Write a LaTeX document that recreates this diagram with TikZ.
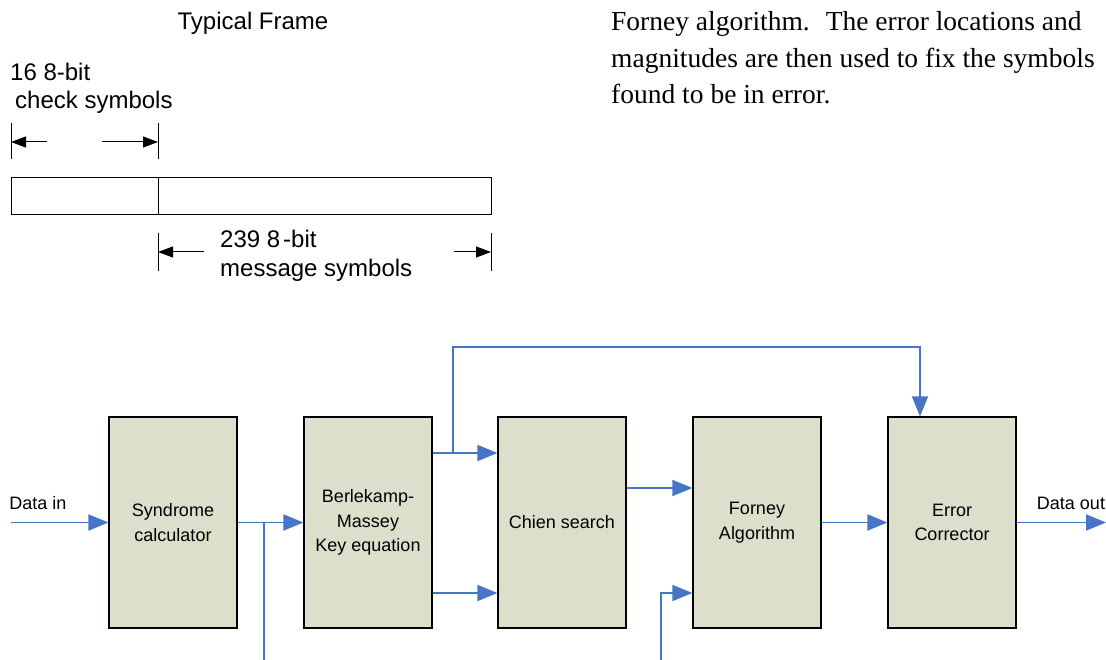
\documentclass[tikz,border=0pt]{standalone}
\usepackage{fontspec}
\setmainfont{Liberation Serif}
\newfontfamily\arialf{Liberation Sans}
\usetikzlibrary{arrows.meta}
\definecolor{boxfill}{RGB}{220,223,203}
\definecolor{lineblue}{RGB}{70,117,197}
\begin{document}
\begin{tikzpicture}[x=1pt,y=-1pt,
  blk/.style={draw=black,line width=1.2pt,fill=boxfill,minimum width=128pt,minimum height=211pt,inner sep=0pt,align=center,font=\arialf\fontsize{18}{24.5}\selectfont},
  arr/.style={draw=lineblue,line width=1.8pt,-{Triangle[length=20pt,width=16pt]}},
  bline/.style={draw=lineblue,line width=1.8pt},
  dimarr/.style={draw=black,line width=1pt,-{Triangle[length=15pt,width=11pt]}},
  tick/.style={draw=black,line width=1pt},
  cell/.style={draw=black,line width=1pt,minimum height=37pt,inner sep=0pt},
  slbl/.style={font=\arialf\fontsize{24}{29}\selectfont,inner sep=0pt},
  flbl/.style={font=\arialf\fontsize{18}{22}\selectfont,inner sep=0pt},
  para/.style={font=\fontsize{27.5}{37}\selectfont,inner sep=0pt,anchor=base west}]
\useasboundingbox (0,0) rectangle (1106,660);

% ---- right paragraph ----
\node[para] (p1) at (611,31) {Forney algorithm.~ The error locations and};
\node[para] (p2) at (611,68) {magnitudes are then used to fix the symbols};
\node[para] (p3) at (611,104) {found to be in error.};

% ---- typical frame ----
\node[slbl,anchor=base] (tf) at (253,30) {Typical Frame};
\node[slbl,anchor=base west] (c1) at (10,81) {16 8-bit};
\node[slbl,anchor=base west] (c2) at (15,109) {check symbols};
\node[slbl,anchor=base west] (m1) at (220,248) {239 8\hspace{3pt}-bit};
\node[slbl,anchor=base west] (m2) at (220,277) {message symbols};

\node[cell,minimum width=147pt] (chk) at (84.5,196.5) {};
\node[cell,minimum width=333pt] (msg) at (324.5,196.5) {};

\coordinate (t1a) at (11,123); \coordinate (t1b) at (11,159);
\coordinate (t2a) at (158,123); \coordinate (t2b) at (158,159);
\draw[tick] (t1a) -- (t1b);
\draw[tick] (t2a) -- (t2b);
\coordinate (a1s) at (47,142); \coordinate (a1e) at (11,142);
\coordinate (a2s) at (102,142); \coordinate (a2e) at (158,142);
\draw[dimarr] (a1s) -- (a1e);
\draw[dimarr] (a2s) -- (a2e);

\coordinate (t3a) at (158,233); \coordinate (t3b) at (158,271);
\coordinate (t4a) at (491,233); \coordinate (t4b) at (491,271);
\draw[tick] (t3a) -- (t3b);
\draw[tick] (t4a) -- (t4b);
\coordinate (a3s) at (204,252); \coordinate (a3e) at (158,252);
\coordinate (a4s) at (454,252); \coordinate (a4e) at (491,252);
\draw[dimarr] (a3s) -- (a3e);
\draw[dimarr] (a4s) -- (a4e);

% ---- block diagram ----
\node[blk] (syn) at (173,522.5) {Syndrome\\calculator};
\node[blk] (bm)  at (368,522.5) {Berlekamp-\\Massey\\Key equation};
\node[blk] (ch)  at (562,522.5) {Chien search};
\node[blk] (fa)  at (757,522.5) {Forney\\Algorithm};
\node[blk] (ec)  at (952,522.5) {Error\\Corrector};

\node[flbl] (din-l) at (38,503) {Data in};
\node[flbl] (dout-l) at (1071,503) {Data out};

\coordinate (din) at (11,522.5);
\coordinate (dout) at (1106,522.5);
\draw[arr] (din) -- (syn.west);
\draw[arr] (syn.east) -- (bm.west);
\coordinate (s1) at (264,522.5);
\coordinate (s1e) at (264,660);
\draw[bline] (s1) -- (s1e);

\draw[arr] ([yshift=69.5pt]bm.east) -- ([yshift=69.5pt]ch.west);
\draw[arr] ([yshift=-70.5pt]bm.east) -- ([yshift=-70.5pt]ch.west);
\coordinate (b1) at (453,453);
\coordinate (b1t) at (453,347);
\draw[arr] (b1) -- (b1t) -| ([xshift=-32pt]ec.north);

\draw[arr] ([yshift=34.5pt]ch.east) -- ([yshift=34.5pt]fa.west);
\coordinate (f0) at (661,660);
\draw[arr] (f0) |- ([yshift=-70.5pt]fa.west);

\draw[arr] (fa.east) -- (ec.west);
\draw[arr] (ec.east) -- (dout);
\end{tikzpicture}
\end{document}
